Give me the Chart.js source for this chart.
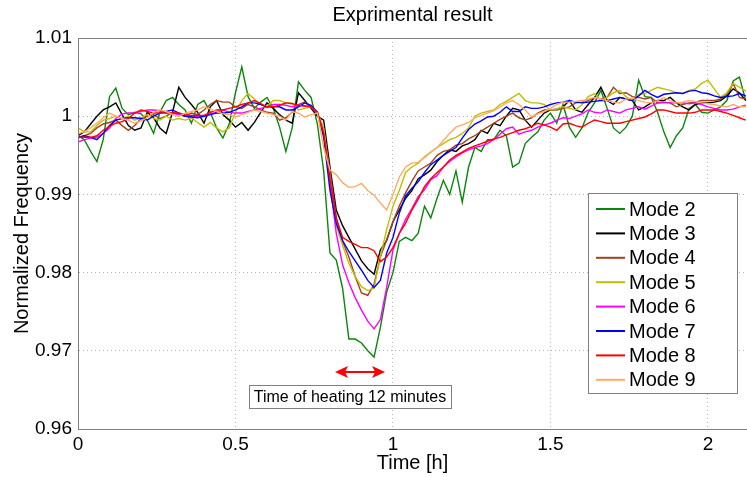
<!doctype html>
<html>
<head>
<title>Exprimental result</title>
<script src="https://cdn.jsdelivr.net/npm/chart.js@4.4.0/dist/chart.umd.min.js"></script>
<style>
body { margin: 0; background: #fff; }
</style>
</head>
<body>
<canvas id="chart-area" width="747" height="477"></canvas>
<script>
// time axis, hours
var time = [
  0, 0.02, 0.04, 0.06, 0.08, 0.1, 0.12, 0.14, 0.16, 0.18,
  0.2, 0.22, 0.24, 0.26, 0.28, 0.3, 0.32, 0.34, 0.36, 0.38,
  0.4, 0.42, 0.44, 0.46, 0.48, 0.5, 0.52, 0.54, 0.56, 0.58,
  0.6, 0.62, 0.64, 0.66, 0.68, 0.7, 0.72, 0.74, 0.76, 0.78,
  0.8, 0.82, 0.84, 0.86, 0.88, 0.9, 0.92, 0.94, 0.96, 0.98,
  1.0, 1.02, 1.04, 1.06, 1.08, 1.1, 1.12, 1.14, 1.16, 1.18,
  1.2, 1.22, 1.24, 1.26, 1.28, 1.3, 1.32, 1.34, 1.36, 1.38,
  1.4, 1.42, 1.44, 1.46, 1.48, 1.5, 1.52, 1.54, 1.56, 1.58,
  1.6, 1.62, 1.64, 1.66, 1.68, 1.7, 1.72, 1.74, 1.76, 1.78,
  1.8, 1.82, 1.84, 1.86, 1.88, 1.9, 1.92, 1.94, 1.96, 1.98,
  2.0, 2.02, 2.04, 2.06, 2.08, 2.1, 2.12
];
var timeTicks = [0, 0.5, 1, 1.5, 2];

var mode2 = [
  0.9975, 0.9970, 0.9955, 0.9942, 0.9970, 1.0025, 1.0036, 1.0010, 1.0002, 1.0005,
  1.0003, 0.9995, 0.9978, 1.0005, 1.0020, 1.0024, 1.0015, 1.0008, 0.9991, 1.0015,
  1.0020, 1.0005, 0.9985, 0.9972, 0.9990, 1.0030, 1.0063, 1.0025, 1.0010, 1.0018,
  1.0024, 1.0010, 0.9986, 0.9955, 0.9985, 1.0044, 1.0033, 1.0024, 0.9990, 0.9930,
  0.9825, 0.9816, 0.9780, 0.9715, 0.9715, 0.9710, 0.9700, 0.9692, 0.9730, 0.9775,
  0.9800, 0.9840, 0.9845, 0.9841, 0.9850, 0.9885, 0.9870, 0.9895, 0.9918, 0.9900,
  0.9930, 0.9890, 0.9935, 0.9960, 0.9955, 0.9970, 0.9970, 0.9982, 0.9975, 0.9935,
  0.9940, 0.9965, 0.9973, 0.9980, 0.9995, 1.0004, 0.9991, 1.0015, 0.9986, 0.9973,
  0.9985, 1.0005, 1.0017, 1.0033, 1.0010, 0.9985, 0.9978, 0.9986, 1.0000, 1.0046,
  1.0025, 1.0024, 1.0005, 0.9980, 0.9960, 0.9975, 0.9985, 1.0010, 1.0015, 1.0005,
  1.0004, 1.0008, 1.0012, 1.0020, 1.0045, 1.0050, 1.0020
];

var mode3 = [
  0.9975, 0.9980, 0.9990, 1.0000, 1.0008, 1.0012, 1.0017, 1.0002, 0.9988, 0.9982,
  0.9985, 1.0005, 0.9998, 0.9985, 0.9978, 1.0005, 1.0037, 1.0024, 1.0015, 1.0005,
  0.9991, 1.0012, 1.0020, 1.0002, 0.9995, 0.9986, 0.9992, 0.9982, 0.9992, 1.0005,
  1.0017, 1.0010, 1.0002, 0.9995, 0.9991, 1.0030, 1.0020, 1.0010, 1.0000, 0.9995,
  0.9935, 0.9880, 0.9860, 0.9845, 0.9830, 0.9815, 0.9805, 0.9798, 0.9829, 0.9841,
  0.9865, 0.9880, 0.9895, 0.9905, 0.9920, 0.9925, 0.9931, 0.9942, 0.9950, 0.9957,
  0.9955, 0.9962, 0.9965, 0.9970, 0.9982, 0.9978, 0.9991, 0.9988, 1.0000, 1.0010,
  1.0008, 0.9995, 0.9986, 0.9995, 1.0004, 1.0008, 1.0009, 1.0012, 1.0020, 1.0008,
  1.0005, 1.0015, 1.0024, 1.0037, 1.0020, 1.0015, 1.0024, 1.0022, 1.0020, 1.0008,
  1.0012, 1.0017, 1.0020, 1.0020, 1.0024, 1.0017, 1.0012, 1.0008, 1.0015, 1.0017,
  1.0017, 1.0018, 1.0020, 1.0026, 1.0035, 1.0030, 1.0020
];

var mode4 = [
  0.9972, 0.9975, 0.9978, 0.9985, 0.9990, 0.9992, 0.9995, 0.9988, 0.9982, 0.9988,
  0.9997, 1.0000, 1.0002, 0.9997, 1.0000, 1.0005, 1.0003, 1.0000, 1.0004, 1.0002,
  1.0008, 1.0015, 1.0020, 1.0018, 1.0018, 1.0012, 1.0010, 1.0015, 1.0012, 1.0008,
  1.0005, 1.0004, 0.9995, 0.9998, 1.0005, 1.0015, 1.0018, 1.0012, 1.0003, 0.9982,
  0.9930, 0.9870, 0.9840, 0.9820, 0.9795, 0.9774, 0.9771, 0.9785, 0.9820, 0.9842,
  0.9865, 0.9885, 0.9902, 0.9917, 0.9930, 0.9935, 0.9940, 0.9950, 0.9955, 0.9957,
  0.9963, 0.9965, 0.9971, 0.9975, 0.9981, 0.9986, 0.9991, 0.9996, 1.0000, 1.0004,
  0.9998, 0.9995, 0.9998, 1.0004, 1.0008, 1.0008, 1.0008, 1.0010, 1.0012, 1.0017,
  1.0018, 1.0020, 1.0024, 1.0022, 1.0024, 1.0037, 1.0029, 1.0030, 1.0025, 1.0024,
  1.0022, 1.0024, 1.0017, 1.0018, 1.0017, 1.0012, 1.0015, 1.0017, 1.0018, 1.0020,
  1.0020, 1.0020, 1.0022, 1.0028, 1.0042, 1.0024, 1.0022
];

var mode5 = [
  0.9985, 0.9980, 0.9980, 0.9988, 0.9995, 0.9997, 1.0000, 0.9997, 1.0000, 0.9995,
  0.9998, 1.0002, 0.9997, 0.9995, 1.0000, 0.9995, 0.9997, 0.9995, 0.9998, 0.9992,
  0.9986, 0.9992, 0.9985, 0.9980, 0.9985, 1.0005, 1.0020, 1.0029, 1.0022, 1.0015,
  1.0012, 1.0020, 1.0020, 1.0017, 1.0017, 1.0008, 1.0010, 1.0012, 1.0005, 0.9985,
  0.9920, 0.9860, 0.9835, 0.9812, 0.9795, 0.9782, 0.9777, 0.9780, 0.9820, 0.9855,
  0.9885, 0.9905, 0.9928, 0.9935, 0.9940, 0.9948, 0.9954, 0.9960, 0.9965, 0.9970,
  0.9973, 0.9978, 0.9985, 1.0000, 1.0004, 1.0006, 1.0008, 1.0015, 1.0019, 1.0024,
  1.0029, 1.0020, 1.0017, 1.0017, 1.0015, 1.0008, 1.0009, 1.0012, 1.0010, 1.0008,
  1.0015, 1.0025, 1.0029, 1.0020, 1.0024, 1.0030, 1.0033, 1.0025, 1.0020, 1.0028,
  1.0029, 1.0033, 1.0037, 1.0035, 1.0033, 1.0030, 1.0029, 1.0033, 1.0035, 1.0042,
  1.0046, 1.0035, 1.0024, 1.0030, 1.0042, 1.0037, 1.0032
];

var mode6 = [
  0.9967, 0.9970, 0.9972, 0.9973, 0.9978, 0.9985, 0.9997, 1.0003, 1.0004, 1.0004,
  1.0006, 1.0008, 1.0008, 1.0007, 1.0004, 1.0004, 1.0002, 1.0000, 1.0000, 1.0000,
  1.0000, 1.0003, 1.0005, 1.0008, 1.0005, 1.0004, 1.0004, 1.0006, 1.0008, 1.0010,
  1.0012, 1.0015, 1.0015, 1.0014, 1.0012, 1.0014, 1.0013, 1.0012, 1.0005, 0.9978,
  0.9914, 0.9850, 0.9810, 0.9787, 0.9768, 0.9752, 0.9738, 0.9728, 0.9740, 0.9781,
  0.9829, 0.9850, 0.9868, 0.9882, 0.9897, 0.9906, 0.9919, 0.9924, 0.9935, 0.9942,
  0.9948, 0.9953, 0.9957, 0.9960, 0.9962, 0.9965, 0.9970, 0.9977, 0.9984, 0.9986,
  0.9977, 0.9980, 0.9982, 0.9986, 0.9989, 0.9991, 0.9995, 0.9998, 0.9997, 1.0000,
  1.0003, 1.0008, 1.0005, 1.0004, 1.0008, 1.0006, 1.0004, 1.0008, 1.0010, 1.0012,
  1.0009, 1.0013, 1.0017, 1.0017, 1.0017, 1.0017, 1.0017, 1.0016, 1.0017, 1.0015,
  1.0012, 1.0010, 1.0008, 1.0008, 1.0009, 1.0012, 1.0014
];

var mode7 = [
  0.9973, 0.9975, 0.9973, 0.9970, 0.9978, 0.9988, 0.9995, 0.9997, 0.9998, 0.9998,
  0.9997, 0.9995, 1.0000, 1.0004, 1.0006, 1.0008, 1.0004, 1.0000, 0.9999, 0.9998,
  1.0000, 1.0002, 1.0004, 1.0004, 1.0005, 1.0008, 1.0012, 1.0017, 1.0017, 1.0015,
  1.0012, 1.0012, 1.0012, 1.0008, 1.0008, 1.0012, 1.0017, 1.0014, 1.0005, 0.9973,
  0.9905, 0.9863, 0.9841, 0.9827, 0.9815, 0.9803, 0.9790, 0.9781, 0.9790, 0.9825,
  0.9845, 0.9876, 0.9898, 0.9908, 0.9916, 0.9928, 0.9938, 0.9944, 0.9950, 0.9955,
  0.9960, 0.9972, 0.9983, 0.9990, 0.9994, 0.9999, 1.0000, 1.0005, 1.0012, 1.0006,
  1.0006, 1.0012, 1.0010, 1.0010, 1.0012, 1.0015, 1.0017, 1.0018, 1.0020, 1.0018,
  1.0017, 1.0018, 1.0019, 1.0020, 1.0020, 1.0022, 1.0024, 1.0022, 1.0020, 1.0026,
  1.0033, 1.0028, 1.0024, 1.0028, 1.0029, 1.0030, 1.0029, 1.0032, 1.0033, 1.0030,
  1.0029, 1.0026, 1.0024, 1.0025, 1.0026, 1.0029, 1.0026
];

var mode8 = [
  0.9973, 0.9973, 0.9973, 0.9975, 0.9982, 0.9987, 0.9991, 0.9993, 0.9997, 1.0004,
  1.0008, 1.0006, 1.0004, 1.0004, 1.0004, 1.0004, 1.0004, 1.0002, 1.0001, 1.0001,
  1.0001, 1.0005, 1.0008, 1.0008, 1.0010, 1.0012, 1.0015, 1.0017, 1.0020, 1.0016,
  1.0012, 1.0012, 1.0014, 1.0017, 1.0016, 1.0014, 1.0013, 1.0012, 1.0005, 0.9978,
  0.9920, 0.9870, 0.9845, 0.9840, 0.9836, 0.9832, 0.9832, 0.9828, 0.9814, 0.9820,
  0.9832, 0.9850, 0.9863, 0.9880, 0.9894, 0.9910, 0.9920, 0.9928, 0.9935, 0.9944,
  0.9950, 0.9954, 0.9959, 0.9962, 0.9965, 0.9968, 0.9971, 0.9973, 0.9976, 0.9979,
  0.9982, 0.9984, 0.9987, 0.9991, 0.9989, 0.9986, 0.9982, 0.9990, 0.9991, 0.9988,
  0.9986, 0.9991, 0.9995, 0.9993, 0.9991, 0.9991, 0.9991, 0.9993, 0.9995, 0.9997,
  0.9999, 1.0003, 1.0008, 1.0008, 1.0006, 1.0004, 1.0004, 1.0004, 1.0005, 1.0008,
  1.0008, 1.0008, 1.0006, 1.0004, 1.0001, 0.9998, 0.9995
];

var mode9 = [
  0.9978, 0.9980, 0.9985, 0.9991, 0.9998, 1.0004, 1.0000, 0.9997, 0.9995, 0.9991,
  0.9994, 0.9998, 1.0005, 1.0008, 1.0006, 1.0002, 1.0000, 1.0004, 1.0006, 1.0008,
  1.0012, 1.0009, 1.0006, 1.0003, 1.0002, 0.9999, 1.0002, 1.0005, 1.0008, 1.0006,
  1.0004, 1.0002, 1.0000, 0.9995, 1.0006, 1.0004, 0.9999, 1.0002, 1.0004, 0.9960,
  0.9931, 0.9925, 0.9915, 0.9909, 0.9910, 0.9914, 0.9905, 0.9899, 0.9889, 0.9880,
  0.9900, 0.9922, 0.9935, 0.9940, 0.9941, 0.9947, 0.9954, 0.9960, 0.9969, 0.9978,
  0.9986, 0.9989, 0.9992, 0.9998, 1.0001, 1.0004, 1.0007, 1.0012, 1.0017, 1.0020,
  1.0015, 1.0008, 0.9999, 1.0003, 1.0006, 1.0010, 1.0015, 1.0018, 1.0018, 1.0019,
  1.0020, 1.0022, 1.0024, 1.0022, 1.0020, 1.0018, 1.0017, 1.0022, 1.0023, 1.0020,
  1.0018, 1.0017, 1.0020, 1.0024, 1.0020, 1.0017, 1.0018, 1.0020, 1.0019, 1.0017,
  1.0016, 1.0015, 1.0013, 1.0012, 1.0015, 1.0012, 1.0012
];

var modeNames = ['Mode 2', 'Mode 3', 'Mode 4', 'Mode 5', 'Mode 6', 'Mode 7', 'Mode 8', 'Mode 9'];
var modeSeries = [mode2, mode3, mode4, mode5, mode6, mode7, mode8, mode9];
var modeColors = ['#0a870a', '#000000', '#a3421a', '#bfbf00', '#ff00ff', '#0000ff', '#ff0000', '#ffab66'];

// heating interval (h) and the level where the arrow / note sit
var heatStart = 0.816, heatEnd = 0.975, arrowLevel = 0.9673;
var noteX = 0.8635, noteLevel = 0.9642;
var noteText = 'Time of heating 12 minutes';
var chartTitle = 'Exprimental result';

var FONT = "'Liberation Sans', Arial, sans-serif";

var datasets = modeSeries.map(function(series, i) {
    return {
        label: modeNames[i],
        data: time.map(function(t, k) { return {x: t, y: series[k]}; }),
        borderColor: modeColors[i],
        backgroundColor: modeColors[i],
        borderWidth: 1.4,
        pointRadius: 0,
        tension: 0,
        order: modeSeries.length - i
    };
});

function fmt(v) { return String(+v.toFixed(2)); }

var framePlugin = {
    id: 'frame',
    afterDatasetsDraw: function(chart) {
        var a = chart.chartArea, ctx = chart.ctx;
        ctx.save();
        ctx.strokeStyle = '#7f7f7f';
        ctx.lineWidth = 1;
        ctx.strokeRect(a.left + 0.5, a.top + 0.5, a.right - a.left, a.bottom - a.top);
        ctx.restore();
    },
    afterDraw: function(chart) {
        var ctx = chart.ctx, a = chart.chartArea;
        var xs = chart.scales.x, ys = chart.scales.y;
        ctx.save();

        // title, centred over the plot box
        ctx.fillStyle = '#000000';
        ctx.font = '20px ' + FONT;
        ctx.textAlign = 'center';
        ctx.textBaseline = 'middle';
        ctx.fillText(chartTitle, (a.left + a.right) / 2, 15);

        // heating arrow
        var x1 = xs.getPixelForValue(heatStart), x2 = xs.getPixelForValue(heatEnd);
        var y = ys.getPixelForValue(arrowLevel);
        ctx.strokeStyle = '#ff0000';
        ctx.fillStyle = '#ff0000';
        ctx.lineWidth = 2;
        ctx.beginPath();
        ctx.moveTo(x1 + 8, y);
        ctx.lineTo(x2 - 8, y);
        ctx.stroke();
        ctx.beginPath();
        ctx.moveTo(x1, y); ctx.lineTo(x1 + 13, y - 6); ctx.lineTo(x1 + 10, y); ctx.lineTo(x1 + 13, y + 6); ctx.closePath();
        ctx.fill();
        ctx.beginPath();
        ctx.moveTo(x2, y); ctx.lineTo(x2 - 13, y - 6); ctx.lineTo(x2 - 10, y); ctx.lineTo(x2 - 13, y + 6); ctx.closePath();
        ctx.fill();

        // note box
        ctx.font = '16px ' + FONT;
        var tw = ctx.measureText(noteText).width;
        var cx = xs.getPixelForValue(noteX), cy = ys.getPixelForValue(noteLevel);
        var bw = tw + 10, bh = 23;
        ctx.fillStyle = '#ffffff';
        ctx.fillRect(cx - bw / 2, cy - bh / 2, bw, bh);
        ctx.strokeStyle = '#808080';
        ctx.lineWidth = 1;
        ctx.strokeRect(Math.round(cx - bw / 2) + 0.5, Math.round(cy - bh / 2) + 0.5, Math.round(bw), bh);
        ctx.fillStyle = '#000000';
        ctx.textAlign = 'center';
        ctx.fillText(noteText, cx, cy + 1);

        // legend box
        var lw = 149, lh = 200;
        var lx = a.right - 10 - lw, ly = a.top + 155;
        ctx.fillStyle = '#ffffff';
        ctx.fillRect(lx, ly, lw, lh);
        ctx.strokeStyle = '#808080';
        ctx.strokeRect(lx + 0.5, ly + 0.5, lw, lh);
        ctx.font = '20px ' + FONT;
        ctx.textAlign = 'left';
        chart.data.datasets.forEach(function(ds, i) {
            var ry = ly + 16 + i * 24.4;
            ctx.strokeStyle = ds.borderColor;
            ctx.lineWidth = 2;
            ctx.beginPath();
            ctx.moveTo(lx + 8, ry);
            ctx.lineTo(lx + 37, ry);
            ctx.stroke();
            ctx.fillStyle = '#000000';
            ctx.fillText(ds.label, lx + 41, ry + 1);
        });
        ctx.restore();
    }
};

var config = {
    type: 'line',
    data: { datasets: datasets },
    options: {
        responsive: false,
        animation: false,
        devicePixelRatio: 1,
        layout: { padding: { top: 38, left: 0, right: 0, bottom: 0 } },
        plugins: {
            legend: { display: false },
            tooltip: { enabled: false },
            title: { display: false }
        },
        scales: {
            x: {
                type: 'linear',
                min: 0,
                max: 2.124,
                afterFit: function(s) { s.height = 48; },
                afterBuildTicks: function(s) {
                    s.ticks = timeTicks.map(function(v) { return {value: v}; });
                },
                ticks: {
                    color: '#000',
                    padding: 4,
                    maxRotation: 0,
                    font: { family: FONT, size: 19 },
                    callback: function(v) { return fmt(v); }
                },
                grid: { color: '#b4b4b4', lineWidth: 1, drawTicks: false },
                border: { display: true, color: '#7f7f7f', dash: [1, 3] },
                title: {
                    display: true,
                    text: 'Time [h]',
                    color: '#000',
                    font: { family: FONT, size: 20 },
                    padding: { top: 0, bottom: 2 }
                }
            },
            y: {
                min: 0.96,
                max: 1.01,
                afterFit: function(s) { s.width = 78; },
                ticks: {
                    stepSize: 0.01,
                    color: '#000',
                    padding: 6,
                    font: { family: FONT, size: 19 },
                    callback: function(v) { return fmt(v); }
                },
                grid: { color: '#b4b4b4', lineWidth: 1, drawTicks: false },
                border: { display: true, color: '#7f7f7f', dash: [1, 3] },
                title: {
                    display: true,
                    text: 'Normalized Frequency',
                    color: '#000',
                    font: { family: FONT, size: 20 },
                    padding: { top: 10, bottom: 0 }
                }
            }
        }
    },
    plugins: [framePlugin]
};

window.onload = function() {
    var ctx = document.getElementById('chart-area').getContext('2d');
    window.myChart = new Chart(ctx, config);
};
</script>
</body>
</html>
